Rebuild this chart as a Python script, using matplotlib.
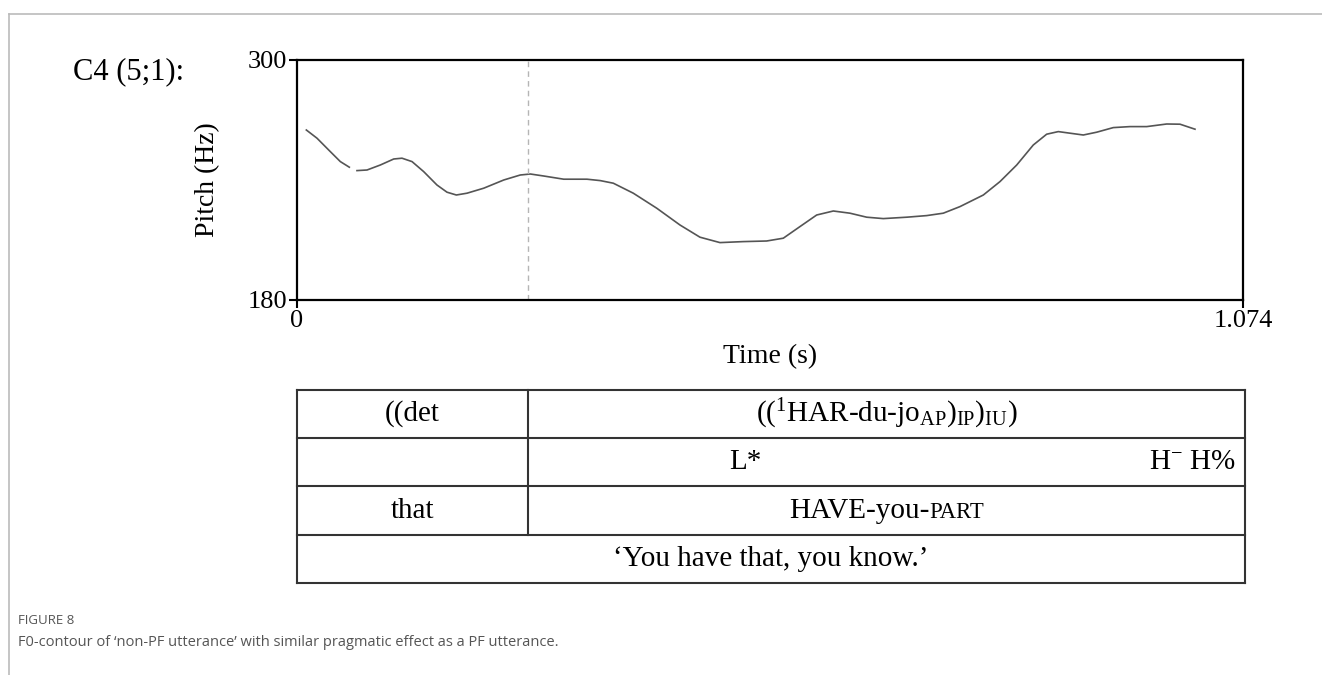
import numpy as np
import matplotlib.pyplot as plt

plt.rcParams['font.family'] = ['Liberation Serif', 'DejaVu Serif']
plt.rcParams['mathtext.fontset'] = 'custom'
plt.rcParams['mathtext.rm'] = 'Liberation Serif'
plt.rcParams['mathtext.it'] = 'Liberation Serif:italic'

# pitch contour, two voiced stretches (time s, pitch Hz)
seg1_t = [0.0106, 0.0227, 0.0378, 0.0492, 0.0594]
seg1_hz = [265, 260.9, 254.2, 249.2, 246.4]
seg2_t = [0.0681, 0.0795, 0.0946, 0.1098, 0.1192, 0.1306, 0.1438, 0.1589, 0.1703, 0.1809,
          0.1930, 0.2120, 0.2347, 0.2535, 0.2649, 0.2801, 0.3028, 0.3292, 0.3443, 0.3591,
          0.3818, 0.4084, 0.4348, 0.4575, 0.4802, 0.5067, 0.5332, 0.5521, 0.5710, 0.5900,
          0.6089, 0.6278, 0.6468, 0.6656, 0.6922, 0.7149, 0.7337, 0.7527, 0.7792, 0.7981,
          0.8171, 0.8359, 0.8511, 0.8643, 0.8776, 0.8927, 0.9079, 0.9267, 0.9457, 0.9647,
          0.9874, 1.0025, 1.0195]
seg2_hz = [244.7, 245, 247.5, 250.5, 250.9, 249.2, 244.2, 237.5, 233.9, 232.5,
           233.4, 235.9, 240, 242.5, 243, 242, 240.4, 240.4, 239.7, 238.4,
           233.4, 225.9, 217.5, 211.4, 208.7, 209.2, 209.5, 210.9, 216.7, 222.5,
           224.5, 223.4, 221.4, 220.7, 221.4, 222.2, 223.4, 226.7, 232.5, 239.2,
           247.5, 257.5, 262.9, 264.2, 263.4, 262.5, 263.9, 266.2, 266.7, 266.7,
           268, 267.9, 265.4]
boundary_t = 0.2623
t_max = 1.074
yticks = [180, 300]
xtick_labels = ['0', '1.074']

fig = plt.figure(figsize=(13.22, 6.75), dpi=100)

# page frame, table and caption on a pixel-based overlay
ov = fig.add_axes([0, 0, 1, 1])
ov.set_xlim(0, 1322)
ov.set_ylim(675, 0)
ov.axis('off')
ov.plot([9, 1322], [14, 14], color='#bbbbbb', lw=1.2)
ov.plot([9, 9], [14, 675], color='#bbbbbb', lw=1.2)

ax = fig.add_axes([297 / 1322, 1 - 300 / 675, 946 / 1322, 240 / 675])
ax.plot(seg1_t, seg1_hz, color='#555555', lw=1.2, solid_joinstyle='round')
ax.plot(seg2_t, seg2_hz, color='#555555', lw=1.2, solid_joinstyle='round')
ax.axvline(boundary_t, color='#b5b5b5', lw=1.0, ls=(0, (4, 3)))
ax.set_xlim(0, t_max)
ax.set_ylim(yticks[0], yticks[1])
ax.set_yticks(yticks)
ax.set_xticks([0, t_max])
ax.set_xticklabels(xtick_labels)
ax.tick_params(labelsize=19, width=1.5, length=6, direction='out', pad=1)
for s in ax.spines.values():
    s.set_linewidth(1.6)
ax.set_xlabel('Time (s)', fontsize=20, labelpad=9)
ax.set_ylabel('Pitch (Hz)', fontsize=20, labelpad=20)
fig.text(73 / 1322, 1 - 72 / 675, 'C4 (5;1):', fontsize=22, va='center', ha='left')

# gloss table
lc = '#333333'
x0, xm, x1 = 297, 528, 1245
rows = [390, 438, 486, 535, 583]
for y in rows:
    ov.plot([x0, x1], [y, y], color=lc, lw=1.5)
ov.plot([x0, x0], [rows[0], rows[-1]], color=lc, lw=1.5)
ov.plot([x1, x1], [rows[0], rows[-1]], color=lc, lw=1.5)
ov.plot([xm, xm], [rows[0], rows[3]], color=lc, lw=1.5)

fs = 21
cy = [(rows[i] + rows[i + 1]) / 2 for i in range(4)]
lcx = (x0 + xm) / 2
rcx = (xm + x1) / 2
ov.text(lcx, cy[0], '((det', fontsize=fs, ha='center', va='center')
ov.text(rcx, cy[0], r'$((^{1}\mathrm{HAR\text{-}du\text{-}jo}_{\mathrm{AP}})_{\mathrm{IP}})_{\mathrm{IU}})$',
        fontsize=fs, ha='center', va='center')
ov.text(745, cy[1], 'L*', fontsize=fs, ha='center', va='center')
ov.text(1236, cy[1], r'H$^{-}$ H%', fontsize=fs, ha='right', va='center')
ov.text(lcx, cy[2], 'that', fontsize=fs, ha='center', va='center')

# HAVE-you-PART with small caps for PART
r = fig.canvas.get_renderer()
t1 = ov.text(0, cy[2], 'HAVE-you-', fontsize=fs, ha='left', va='baseline')
t2 = ov.text(0, cy[2], 'PART', fontsize=fs * 0.78, ha='left', va='baseline')
w1 = t1.get_window_extent(r).width
w2 = t2.get_window_extent(r).width
start = rcx - (w1 + w2) / 2
base = cy[2] + 8
t1.set_position((start, base))
t2.set_position((start + w1, base))

ov.text((x0 + x1) / 2, cy[3], '\u2018You have that, you know.\u2019', fontsize=fs, ha='center', va='center')

# caption
cap = ['Open Sans', 'DejaVu Sans']
ov.text(18, 620, 'FIGURE 8', fontsize=9.5, color='#555555', family=cap, va='center')
ov.text(18, 643, 'F0-contour of \u2018non-PF utterance\u2019 with similar pragmatic effect as a PF utterance.',
        fontsize=10.5, color='#555555', family=cap, va='center')

fig.savefig('out.png', dpi=100)
